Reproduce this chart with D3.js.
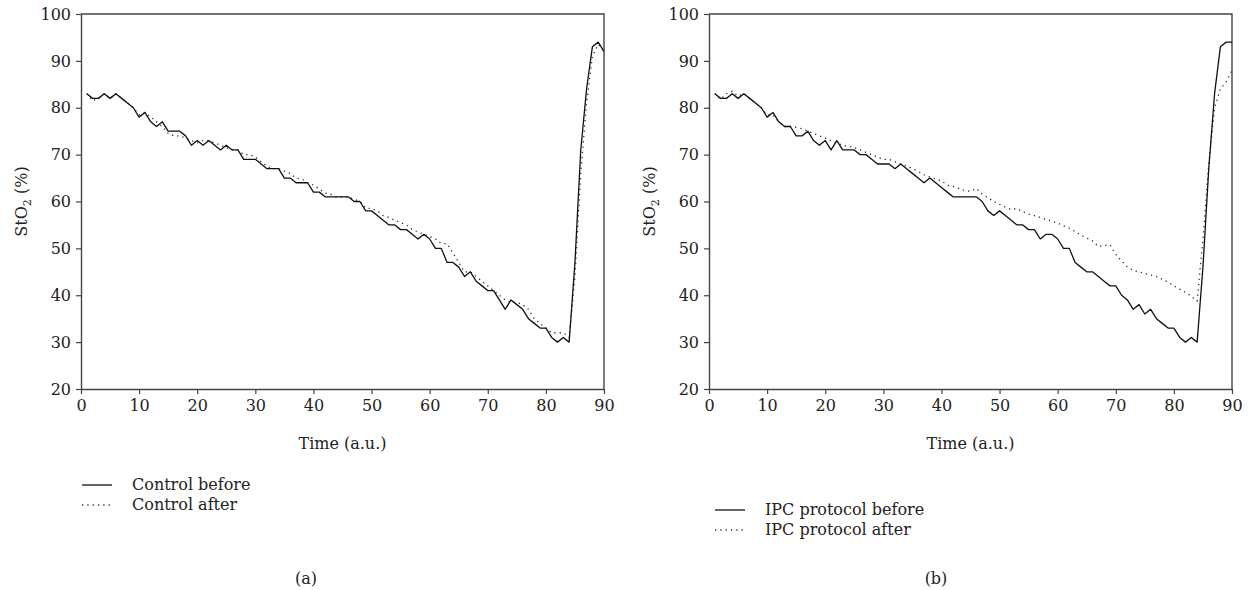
<!DOCTYPE html>
<html>
<head>
<meta charset="utf-8">
<script src="https://cdn.jsdelivr.net/npm/d3@7"></script>
<style>
  body { margin: 0; background: #fff; }
  svg text { font-family: "DejaVu Serif", "Liberation Serif", serif; fill: #222; }
</style>
</head>
<body>
<svg id="chart" width="1255" height="590"></svg>
<script>
// time points 1..90 (a.u.)
var time = d3.range(1, 91)

var controlBefore = [83, 82, 82, 83, 82, 83, 82, 81, 80, 78, 79, 77, 76, 77, 75, 75, 75, 74, 72, 73,
  72, 73, 72, 71, 72, 71, 71, 69, 69, 69, 68, 67, 67, 67, 65, 65, 64, 64, 64, 62,
  62, 61, 61, 61, 61, 61, 60, 60, 58, 58, 57, 56, 55, 55, 54, 54, 53, 52, 53, 52,
  50, 50, 47, 47, 46, 44, 45, 43, 42, 41, 41, 39, 37, 39, 38, 37, 35, 34, 33, 33,
  31, 30, 31, 30, 47, 71, 84, 93, 94, 92]

var controlAfter = [83, 81.5, 82, 83, 82, 83, 82, 81, 80, 78.5, 79, 78, 77, 76, 74.5, 74, 74, 73.5, 73, 72.5,
  73, 73, 72.5, 72, 71.5, 71, 71, 70, 70, 69.5, 68.5, 67.5, 67, 67, 66.5, 66, 65, 64.8, 64, 63.5,
  62.7, 61.8, 61.5, 61, 61, 61, 60.5, 60, 58.6, 58.5, 58, 57, 56.6, 56, 55.5, 55, 54, 53.5, 53, 52.5,
  52, 51, 51, 49, 47, 45, 45, 44, 43, 42, 41, 40, 39, 38.5, 38.5, 38, 37, 35, 34, 33,
  32, 32, 32, 31, 44, 66, 81, 91, 93.5, 92]

var ipcBefore = [83, 82, 82, 83, 82, 83, 82, 81, 80, 78, 79, 77, 76, 76, 74, 74, 75, 73, 72, 73,
  71, 73, 71, 71, 71, 70, 70, 69, 68, 68, 68, 67, 68, 67, 66, 65, 64, 65, 64, 63,
  62, 61, 61, 61, 61, 61, 60, 58, 57, 58, 57, 56, 55, 55, 54, 54, 52, 53, 53, 52,
  50, 50, 47, 46, 45, 45, 44, 43, 42, 42, 40, 39, 37, 38, 36, 37, 35, 34, 33, 33,
  31, 30, 31, 30, 46, 67, 83, 93, 94, 94]

var ipcAfter = [83, 81.8, 83, 83.5, 82.5, 83, 82, 81, 80, 78.5, 78.5, 77, 76, 76, 75.8, 75.5, 75, 74.5, 74, 73.5,
  73, 72.5, 72, 71.8, 71.5, 71, 70.5, 70, 69.5, 69, 69, 68.5, 68, 67.6, 67, 66.4, 65.7, 65.2, 64.8, 64.4,
  63.5, 63.2, 62.8, 62.3, 62.2, 62.8, 61.6, 60.8, 60, 59.4, 58.8, 58.3, 58.5, 57.8, 57.3, 57, 56.6, 56.2, 55.8, 55.4,
  54.8, 54.3, 53.6, 52.8, 52.2, 51.6, 50.4, 50.6, 50.8, 48.7, 47.3, 46, 45.3, 45, 44.6, 44.3, 44, 43.4, 42.8, 42,
  41.3, 40.6, 39.8, 38.8, 52, 68, 80, 84, 85.5, 88]

var xTicks = d3.range(0, 91, 10)
var yTicks = d3.range(20, 101, 10)

var panels = [
  {left: 81, right: 604, before: controlBefore, after: controlAfter,
   names: ["Control before", "Control after"], legX: 82, legY: 485, tag: "(a)", tagX: 306},
  {left: 709, right: 1232, before: ipcBefore, after: ipcAfter,
   names: ["IPC protocol before", "IPC protocol after"], legX: 715, legY: 510, tag: "(b)", tagX: 936}
]

var svg = d3.select("#chart")
var plotTop = 14, plotBottom = 389
var axisColor = "#444"

panels.forEach(function (p) {
  var x = d3.scaleLinear().domain([0, 90]).range([p.left, p.right])
  var y = d3.scaleLinear().domain([20, 100]).range([plotBottom, plotTop])
  var g = svg.append("g")

  // frame (top and right)
  g.append("path")
    .attr("d", "M" + p.left + "," + plotTop + "H" + p.right + "V" + plotBottom)
    .attr("fill", "none").attr("stroke", axisColor).attr("stroke-width", 1.4)

  var xAxis = g.append("g")
    .attr("transform", "translate(0," + plotBottom + ")")
    .call(d3.axisBottom(x).tickValues(xTicks).tickSize(5).tickSizeOuter(0).tickPadding(6))
  var yAxis = g.append("g")
    .attr("transform", "translate(" + p.left + ",0)")
    .call(d3.axisLeft(y).tickValues(yTicks).tickSize(5).tickSizeOuter(0).tickPadding(5))

  ;[xAxis, yAxis].forEach(function (a) {
    a.select(".domain").attr("stroke", axisColor).attr("stroke-width", 1.4)
    a.selectAll(".tick line").attr("stroke", axisColor).attr("stroke-width", 1.2)
    a.selectAll(".tick text").attr("font-size", 16).attr("font-family", "DejaVu Serif").attr("fill", "#222")
  })

  var line = d3.line()
    .x(function (d, i) { return x(time[i]) })
    .y(function (d) { return y(d) })

  g.append("path").datum(p.after)
    .attr("d", line).attr("fill", "none")
    .attr("stroke", "#333").attr("stroke-width", 1.3)
    .attr("stroke-dasharray", "1.3,4")

  g.append("path").datum(p.before)
    .attr("d", line).attr("fill", "none")
    .attr("stroke", "#111").attr("stroke-width", 1.3)
    .attr("stroke-linejoin", "round")

  // axis titles
  g.append("text")
    .attr("x", (p.left + p.right) / 2).attr("y", 449)
    .attr("text-anchor", "middle").attr("font-size", 16)
    .text("Time (a.u.)")

  var yl = g.append("text")
    .attr("transform", "translate(" + (p.left - 54) + "," + ((plotTop + plotBottom) / 2) + ") rotate(-90)")
    .attr("text-anchor", "middle").attr("font-size", 16)
  yl.append("tspan").text("StO")
  yl.append("tspan").attr("font-size", 11).attr("dy", 4).text("2")
  yl.append("tspan").attr("dy", -4).text(" (%)")

  // legend
  p.names.forEach(function (name, i) {
    var ly = p.legY + i * 20
    g.append("line")
      .attr("x1", p.legX).attr("x2", p.legX + 30)
      .attr("y1", ly).attr("y2", ly)
      .attr("stroke", i === 0 ? "#111" : "#333").attr("stroke-width", 1.3)
      .attr("stroke-dasharray", i === 0 ? null : "1.3,4")
    g.append("text")
      .attr("x", p.legX + 50).attr("y", ly + 5)
      .attr("font-size", 16)
      .text(name)
  })

  g.append("text")
    .attr("x", p.tagX).attr("y", 584)
    .attr("text-anchor", "middle").attr("font-size", 16)
    .text(p.tag)
})
</script>
</body>
</html>
